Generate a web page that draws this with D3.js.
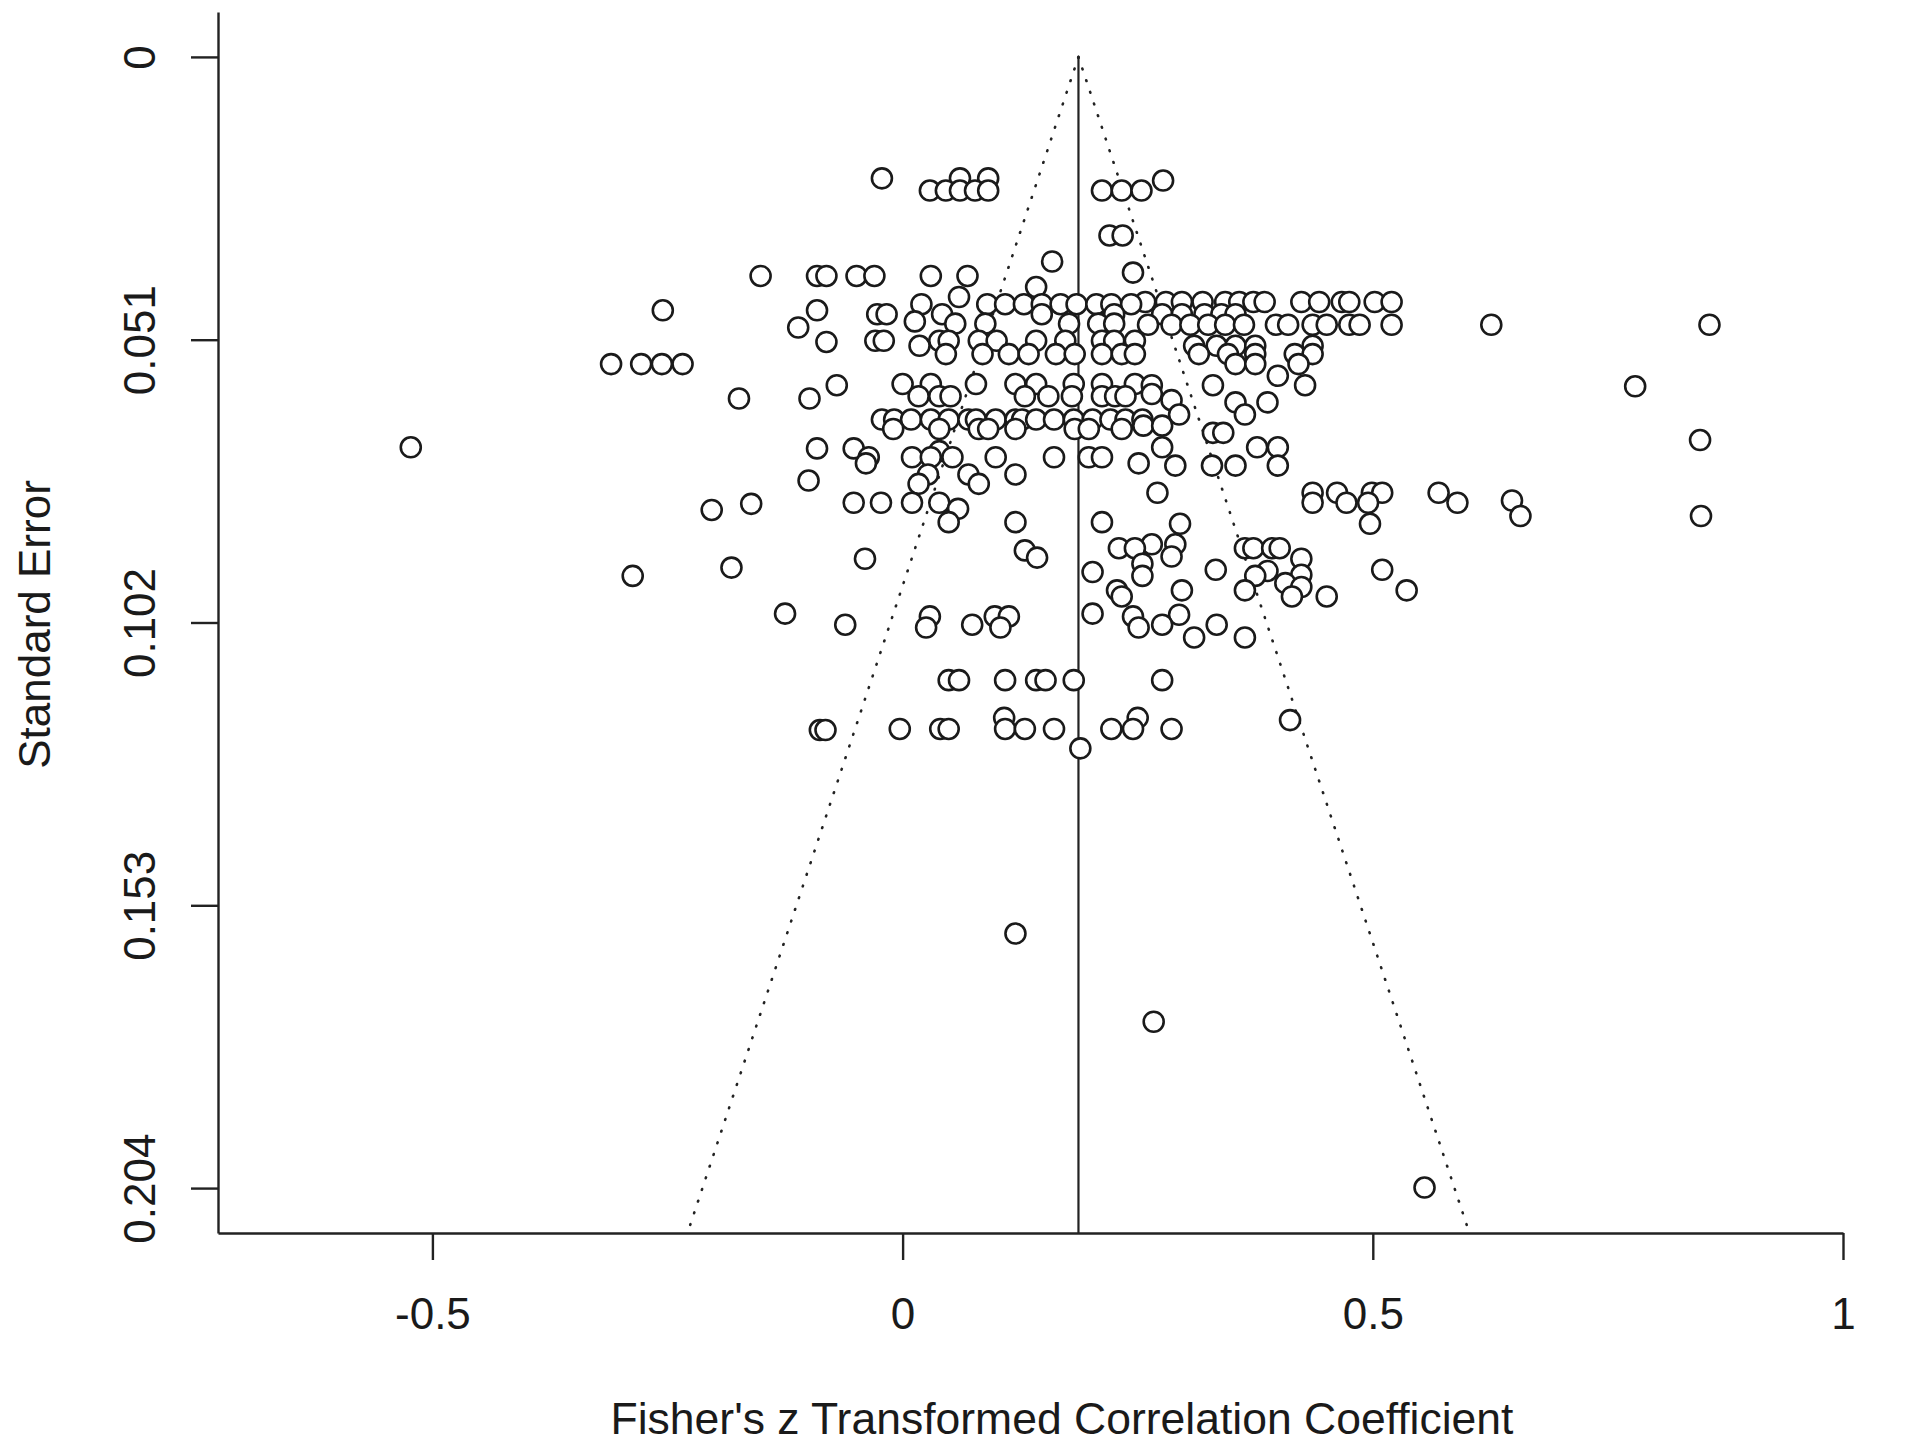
<!DOCTYPE html>
<html><head><meta charset="utf-8">
<script src="https://cdn.jsdelivr.net/npm/d3@7"></script>
<style>
html,body{margin:0;padding:0;background:#fff;}
svg text{font-family:"Liberation Sans",Arial,Helvetica,sans-serif;fill:#1a1a1a;}
</style></head><body>
<svg id="chart" width="1920" height="1450"></svg>
<script>
// ---- data ----
const xTicks = [-0.5, 0, 0.5, 1];
const xTickLabels = ["-0.5", "0", "0.5", "1"];
const yTicks = [0, 0.051, 0.102, 0.153, 0.204];
const yTickLabels = ["0", "0.051", "0.102", "0.153", "0.204"];
const xTitle = "Fisher's z Transformed Correlation Coefficient";
const yTitle = "Standard Error";
const pooledEstimate = 0.187;
const zCrit = 1.96;

// standard error of each group of studies, and the effects (Fisher's z) at that SE
const rowSE = [
 0.0219, 0.0223, 0.0241, 0.0322, 0.0369, 0.0389, 0.0395, 0.0415, 0.0433, 0.0442,
 0.0446, 0.0457, 0.0464, 0.0477, 0.0481, 0.0483, 0.0488, 0.0512, 0.0514, 0.0521,
 0.0536, 0.0554, 0.0575, 0.0590, 0.0592, 0.0594, 0.0608, 0.0612, 0.0616, 0.0619,
 0.0623, 0.0645, 0.0654, 0.0665, 0.0671, 0.0678, 0.0691, 0.0704, 0.0706, 0.0711,
 0.0722, 0.0733, 0.0737, 0.0753, 0.0764, 0.0770, 0.0786, 0.0800, 0.0804, 0.0806,
 0.0815, 0.0817, 0.0828, 0.0839, 0.0842, 0.0879, 0.0886, 0.0890, 0.0901, 0.0903,
 0.0905, 0.0914, 0.0921, 0.0925, 0.0927, 0.0929, 0.0934, 0.0936, 0.0949, 0.0956,
 0.0962, 0.0973, 0.1004, 0.1006, 0.1009, 0.1024, 0.1029, 0.1047, 0.1124, 0.1192,
 0.1196, 0.1212, 0.1214, 0.1247, 0.1581, 0.1740, 0.2039
];
const rowEffects = [
 [-0.022, 0.061, 0.091],
 [0.277],
 [0.029, 0.046, 0.061, 0.077, 0.091, 0.212, 0.233, 0.254],
 [0.220, 0.234],
 [0.159],
 [0.245],
 [-0.151, -0.091, -0.081, -0.049, -0.030, 0.030, 0.069],
 [0.142],
 [0.060],
 [0.258, 0.280, 0.297, 0.319, 0.343, 0.358, 0.373, 0.385, 0.424, 0.443, 0.467, 0.475, 0.502, 0.520],
 [0.020, 0.090, 0.109, 0.129, 0.148, 0.168, 0.185, 0.206, 0.222, 0.243],
 [-0.255, -0.091],
 [-0.027, -0.017, 0.042, 0.148, 0.225, 0.276, 0.297, 0.321, 0.339, 0.354],
 [0.013],
 [0.056, 0.088, 0.177, 0.208, 0.225],
 [0.261, 0.286, 0.306, 0.325, 0.343, 0.363, 0.397, 0.410, 0.436, 0.451, 0.475, 0.486, 0.520, 0.626, 0.858],
 [-0.111],
 [-0.029, -0.020, 0.039, 0.049, 0.081, 0.100, 0.142, 0.173, 0.212, 0.225, 0.247],
 [-0.081],
 [0.018, 0.310, 0.334, 0.354, 0.375, 0.436],
 [0.046, 0.085, 0.113, 0.134, 0.163, 0.183, 0.212, 0.233, 0.247, 0.315, 0.346, 0.375, 0.417, 0.436],
 [-0.310, -0.278, -0.256, -0.234, 0.354, 0.375, 0.421],
 [0.399],
 [0.000, 0.030, 0.078, 0.120, 0.142, 0.182, 0.212, 0.247],
 [-0.070, 0.265, 0.330, 0.428],
 [0.779],
 [0.265],
 [0.017, 0.039, 0.051, 0.130, 0.155, 0.180, 0.212, 0.226, 0.237],
 [-0.174, -0.099],
 [0.286],
 [0.354, 0.388],
 [0.294, 0.364],
 [-0.022, -0.009, 0.009, 0.030, 0.049, 0.070, 0.078, 0.099, 0.120, 0.127, 0.142, 0.161, 0.182, 0.202, 0.221, 0.237, 0.255],
 [0.256, 0.276],
 [-0.010, 0.039, 0.081, 0.091, 0.120, 0.183, 0.198, 0.233],
 [0.330, 0.341],
 [0.848],
 [-0.523, 0.276, 0.377, 0.399],
 [-0.091, -0.052],
 [0.039],
 [-0.036, 0.010, 0.030, 0.053, 0.099, 0.161, 0.198, 0.212],
 [-0.039, 0.251],
 [0.290, 0.329, 0.354, 0.399],
 [0.027, 0.070, 0.120],
 [-0.100],
 [0.017, 0.081],
 [0.271, 0.436, 0.462, 0.499, 0.510, 0.570],
 [0.648],
 [-0.052, -0.023, 0.010, 0.039, 0.436, 0.472, 0.495, 0.590],
 [-0.161],
 [0.059],
 [-0.203],
 [0.657, 0.849],
 [0.049, 0.120, 0.212],
 [0.295, 0.497],
 [0.265, 0.290],
 [0.230, 0.247, 0.364, 0.373, 0.393, 0.401],
 [0.130],
 [0.286],
 [0.143],
 [-0.040, 0.424],
 [0.255],
 [-0.182],
 [0.333, 0.510],
 [0.388],
 [0.202],
 [0.424],
 [-0.287, 0.255, 0.375],
 [0.407],
 [0.424],
 [0.228, 0.297, 0.364, 0.536],
 [0.233, 0.414, 0.451],
 [-0.125, 0.202],
 [0.294],
 [0.029, 0.098, 0.113, 0.245],
 [-0.061, 0.074, 0.276, 0.334],
 [0.025, 0.104, 0.251],
 [0.310, 0.364],
 [0.049, 0.060, 0.109, 0.142, 0.152, 0.182, 0.276],
 [0.108, 0.250],
 [0.412],
 [-0.003, 0.040, 0.049, 0.109, 0.130, 0.161, 0.222, 0.245, 0.286],
 [-0.088, -0.082],
 [0.189],
 [0.120],
 [0.267],
 [0.555]
];

// ---- chart ----
(function () {
const svg = d3.select("#chart");
const mLeft = 218, mRight = 1843, mTop = 12, mBottom = 1233;
const x = d3.scaleLinear().domain([-0.728, 1.0]).range([mLeft, mRight]);
const y = d3.scaleLinear().domain([-0.0081, 0.2121]).range([mTop, mBottom]);

const points = [];
rowSE.forEach((s, i) => rowEffects[i].forEach(e => points.push({e, s})));

const seMax = y.domain()[1];
const funnel = [
  [[pooledEstimate, 0], [pooledEstimate - zCrit * seMax, seMax]],
  [[pooledEstimate, 0], [pooledEstimate + zCrit * seMax, seMax]]
];
const line = d3.line().x(d => x(d[0])).y(d => y(d[1]));
svg.append("g").selectAll("path").data(funnel).join("path")
  .attr("d", line)
  .attr("fill", "none")
  .attr("stroke", "#222")
  .attr("stroke-width", 2.6)
  .attr("stroke-linecap", "round")
  .attr("stroke-dasharray", "0.8 11.5");

svg.append("line")
  .attr("x1", x(pooledEstimate)).attr("x2", x(pooledEstimate))
  .attr("y1", y(0)).attr("y2", y(seMax))
  .attr("stroke", "#222").attr("stroke-width", 2.2);

const xAxis = d3.axisBottom(x).tickValues(xTicks).tickSize(27).tickSizeOuter(0).tickFormat((d, i) => xTickLabels[i]);
const gx = svg.append("g").attr("transform", `translate(0,${mBottom})`).call(xAxis);
gx.select(".domain").attr("stroke", "#222").attr("stroke-width", 2.4);
gx.selectAll(".tick line").attr("stroke", "#222").attr("stroke-width", 2.4);
gx.selectAll(".tick text").attr("y", 96).attr("dy", 0).attr("font-size", 44)
  .attr("fill", "#1a1a1a").style("font-family", '"Liberation Sans", Arial, sans-serif');

const yAxis = d3.axisLeft(y).tickValues(yTicks).tickSize(27).tickSizeOuter(0).tickFormat((d, i) => yTickLabels[i]);
const gy = svg.append("g").attr("transform", `translate(${mLeft},0)`).call(yAxis);
gy.select(".domain").attr("stroke", "#222").attr("stroke-width", 2.4);
gy.selectAll(".tick line").attr("stroke", "#222").attr("stroke-width", 2.4);
gy.selectAll(".tick text")
  .attr("x", null).attr("dy", 0)
  .attr("transform", `translate(${155 - mLeft},0) rotate(-90)`)
  .attr("text-anchor", "middle")
  .attr("font-size", 44).attr("fill", "#1a1a1a")
  .style("font-family", '"Liberation Sans", Arial, sans-serif');

svg.append("g").selectAll("circle").data(points).join("circle")
  .attr("cx", d => x(d.e))
  .attr("cy", d => y(d.s))
  .attr("r", 10)
  .attr("fill", "#fff")
  .attr("stroke", "#1a1a1a")
  .attr("stroke-width", 2.6);

svg.append("text")
  .attr("x", 1062).attr("y", 1434)
  .attr("text-anchor", "middle").attr("font-size", 44.5)
  .text(xTitle);
svg.append("text")
  .attr("transform", `translate(50,${(mTop + mBottom) / 2 + 2}) rotate(-90)`)
  .attr("text-anchor", "middle").attr("font-size", 44)
  .text(yTitle);
})();
</script>
</body></html>
